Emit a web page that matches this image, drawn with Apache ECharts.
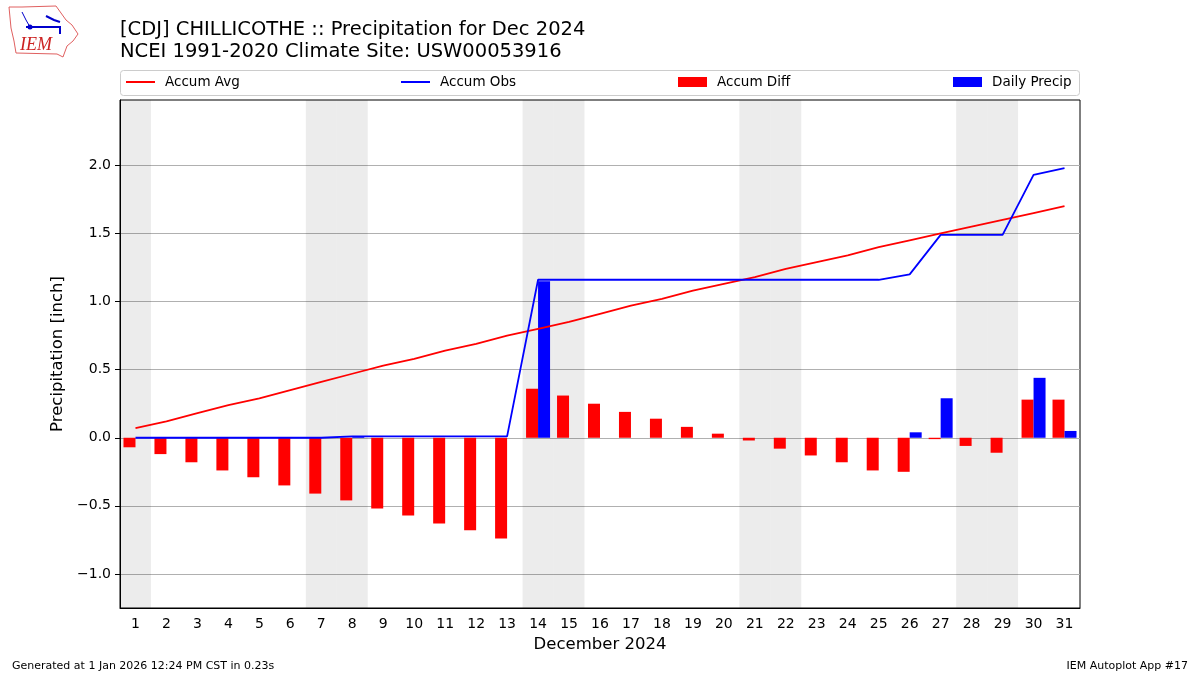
<!DOCTYPE html>
<html><head><meta charset="utf-8">
<script src="https://cdn.jsdelivr.net/npm/echarts@6/dist/echarts.min.js"></script>
<style>html,body{margin:0;padding:0;background:#fff}#c{width:1200px;height:675px}</style>
</head><body><div id="c"></div>
<script>
// ---- data ----
const days = ['1','2','3','4','5','6','7','8','9','10','11','12','13','14','15','16','17','18','19','20','21','22','23','24','25','26','27','28','29','30','31'];
const accumAvg = [0.07,0.12,0.18,0.24,0.29,0.35,0.41,0.47,0.53,0.58,0.64,0.69,0.75,0.80,0.85,0.91,0.97,1.02,1.08,1.13,1.18,1.24,1.29,1.34,1.40,1.45,1.50,1.55,1.60,1.65,1.70];
const accumObs = [0.00,0.00,0.00,0.00,0.00,0.00,0.00,0.01,0.01,0.01,0.01,0.01,0.01,1.16,1.16,1.16,1.16,1.16,1.16,1.16,1.16,1.16,1.16,1.16,1.16,1.20,1.49,1.49,1.49,1.93,1.98];
const accumDiff = [-0.07,-0.12,-0.18,-0.24,-0.29,-0.35,-0.41,-0.46,-0.52,-0.57,-0.63,-0.68,-0.74,0.36,0.31,0.25,0.19,0.14,0.08,0.03,-0.02,-0.08,-0.13,-0.18,-0.24,-0.25,-0.01,-0.06,-0.11,0.28,0.28];
const dailyPrecip = [0,0,0,0,0,0,0,0.01,0,0,0,0,0,1.15,0,0,0,0,0,0,0,0,0,0,0,0.04,0.29,0,0,0.44,0.05];
const weekend = [1,0,0,0,0,0,1,1,0,0,0,0,0,1,1,0,0,0,0,0,1,1,0,0,0,0,0,1,1,0,0];
const yTicks = [-1.0,-0.5,0.0,0.5,1.0,1.5,2.0];
const yMin = -1.25, yMax = 2.48;
const titleText = '[CDJ] CHILLICOTHE :: Precipitation for Dec 2024\nNCEI 1991-2020 Climate Site: USW00053916';
const footLeft = 'Generated at 1 Jan 2026 12:24 PM CST in 0.23s';
const footRight = 'IEM Autoplot App #17';

const FONT = 'DejaVu Sans';
const chart = echarts.init(document.getElementById('c'), null, {renderer: 'canvas'});
const fmt = v => (v < 0 ? '\u2212' : '') + Math.abs(v).toFixed(1);
const legendCommon = {top: 70, itemWidth: 29, itemGap: 0, textStyle: {fontFamily: FONT, fontSize: 13.5, color: '#000', padding: [0, 0, 0, 5]}, selectedMode: false};

chart.setOption({
  animation: false,
  backgroundColor: '#fff',
  textStyle: {fontFamily: FONT},
  title: {
    text: titleText, left: 115, top: 14,
    textStyle: {fontFamily: FONT, fontSize: 19.5, fontWeight: 'normal', color: '#000', lineHeight: 22}
  },
  legend: [
    Object.assign({data: [{name: 'Accum Avg', icon: 'rect'}], left: 121, itemHeight: 2}, legendCommon),
    Object.assign({data: [{name: 'Accum Obs', icon: 'rect'}], left: 396, itemHeight: 2}, legendCommon),
    Object.assign({data: [{name: 'Accum Diff', icon: 'rect'}], left: 673, itemHeight: 10}, legendCommon),
    Object.assign({data: [{name: 'Daily Precip', icon: 'rect'}], left: 948, itemHeight: 10}, legendCommon)
  ],
  graphic: [
    {type: 'rect', shape: {x: 120.5, y: 70.5, width: 959, height: 25, r: 3}, style: {fill: '#fff', stroke: '#cccccc', lineWidth: 1}, z: -1},
    {type: 'polyline', shape: {points: [[9,7],[22,7],[56,6],[61,13],[66,20],[72,25],[78,34],[73,41],[67,46],[63,57],[57,54],[16,53],[14,41],[11,28],[9,7]]}, style: {fill: 'none', stroke: '#e06060', lineWidth: 1}},
    {type: 'polyline', shape: {points: [[26,27],[60,27],[60,34]]}, style: {fill: 'none', stroke: '#0000cc', lineWidth: 2}},
    {type: 'polyline', shape: {points: [[22,12],[26,20],[30,27]]}, style: {fill: 'none', stroke: '#0000cc', lineWidth: 1}},
    {type: 'polyline', shape: {points: [[46,16],[54,20],[60,22]]}, style: {fill: 'none', stroke: '#0000cc', lineWidth: 2}},
    {type: 'circle', shape: {cx: 30, cy: 27, r: 2.5}, style: {fill: '#0000cc'}},
    {type: 'text', style: {x: 20, y: 36, text: 'IEM', fill: '#cc2222', font: 'italic 18px "Liberation Serif", serif'}},
    {type: 'text', style: {x: 12, y: 661, text: footLeft, fill: '#000', font: '11px "DejaVu Sans"'}},
    {type: 'text', style: {x: 1188, y: 661, text: footRight, fill: '#000', font: '11px "DejaVu Sans"', align: 'right'}}
  ],
  grid: {left: 120, right: 120, top: 100, bottom: 67, show: true, borderColor: '#000', borderWidth: 1, backgroundColor: '#fff'},
  xAxis: [
    {
      type: 'category', data: days, boundaryGap: true,
      axisLine: {onZero: false, lineStyle: {color: '#000', width: 1}},
      axisTick: {alignWithLabel: true, length: 5, lineStyle: {color: '#000'}},
      axisLabel: {fontFamily: FONT, fontSize: 14, color: '#000', margin: 9, interval: 0},
      splitLine: {show: false},
      name: 'December 2024', nameLocation: 'middle', nameGap: 28,
      nameTextStyle: {fontFamily: FONT, fontSize: 16.5, color: '#000'}
    },
    {type: 'category', data: days, boundaryGap: true, show: false}
  ],
  yAxis: {
    type: 'value', min: yMin, max: yMax,
    axisLine: {show: true, lineStyle: {color: '#000', width: 1}},
    axisTick: {show: true, length: 5, lineStyle: {color: '#000'}, customValues: yTicks},
    axisLabel: {fontFamily: FONT, fontSize: 14, color: '#000', margin: 9, customValues: yTicks, formatter: fmt},
    splitLine: {show: true, lineStyle: {color: '#b0b0b0', width: 1}},
    name: 'Precipitation [inch]', nameLocation: 'middle', nameGap: 50,
    nameTextStyle: {fontFamily: FONT, fontSize: 16.5, color: '#000'}
  },
  series: [
    {name: 'wkTop', type: 'bar', xAxisIndex: 1, data: weekend.map(w => w ? yMax : '-'), barWidth: '100%', barGap: '-100%',
      itemStyle: {color: 'rgba(0,0,0,0.075)'}, silent: true, z: 1},
    {name: 'wkBot', type: 'bar', xAxisIndex: 1, data: weekend.map(w => w ? yMin : '-'), barWidth: '100%', barGap: '-100%',
      itemStyle: {color: 'rgba(0,0,0,0.075)'}, silent: true, z: 1},
    {name: 'Accum Diff', type: 'bar', data: accumDiff, barWidth: 12, barGap: '0%', itemStyle: {color: '#ff0000'}, z: 2},
    {name: 'Daily Precip', type: 'bar', data: dailyPrecip, barWidth: 12, barGap: '0%', itemStyle: {color: '#0000ff'}, z: 2},
    {name: 'Accum Avg', type: 'line', data: accumAvg, symbol: 'none', lineStyle: {color: '#ff0000', width: 1.8}, itemStyle: {color: '#ff0000'}, z: 3},
    {name: 'Accum Obs', type: 'line', data: accumObs, symbol: 'none', lineStyle: {color: '#0000ff', width: 1.8}, itemStyle: {color: '#0000ff'}, z: 3}
  ]
});
</script></body></html>
